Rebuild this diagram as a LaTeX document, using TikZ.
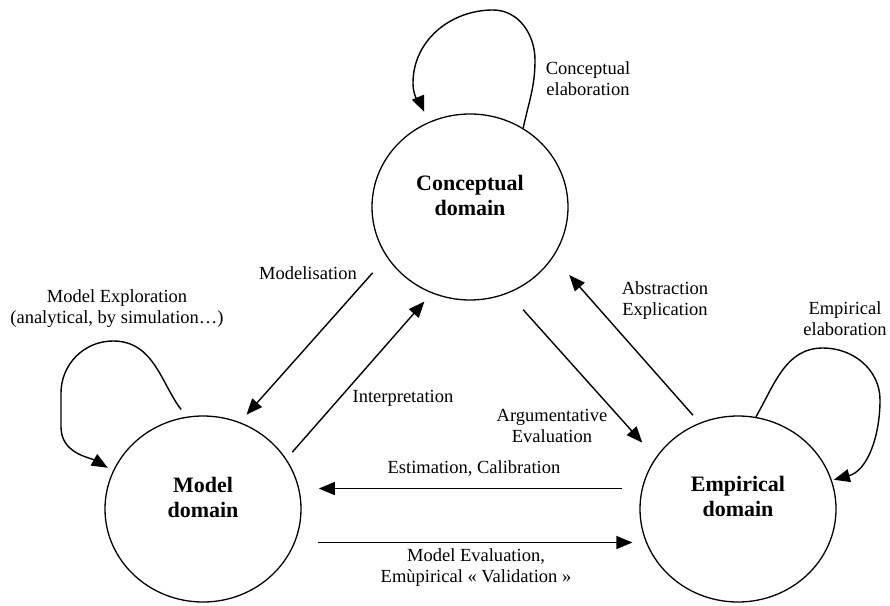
\documentclass[tikz,border=0pt]{standalone}
\usepackage{fontspec}
\setmainfont{Liberation Serif}
\usetikzlibrary{arrows.meta,shapes.geometric}
\begin{document}
\begin{tikzpicture}[x=1pt,y=1pt,
  dom/.style={draw, ellipse, line width=1.3pt, minimum width=196pt, minimum height=186pt, inner sep=0pt},
  domtext/.style={font=\fontsize{22}{25}\selectfont\bfseries, align=center, inner sep=0pt},
  lbl/.style={font=\fontsize{18.5}{21}\selectfont, align=center, inner sep=0pt},
  arr/.style={line width=1.4pt, -{Triangle[length=16pt,width=13pt]}},
  selfloop/.style={arr}
]
\useasboundingbox (0,0) rectangle (890,605);

% domains
\node[dom] (C) at (470,398) {};
\node[dom] (M) at (203,96) {};
\node[dom] (E) at (738,96) {};
\node[domtext] (Ct) at (470,410) {Conceptual\\domain};
\node[domtext] (Mt) at (203,108) {Model\\domain};
\node[domtext] (Et) at (738,109) {Empirical\\domain};

% straight connectors
\draw[arr, shorten <=21pt, shorten >=10pt] (C.211) -- (M.67);
\draw[arr, shorten <=9pt, shorten >=11pt] (M.31) -- (C.246);
\draw[arr, shorten <=22pt, shorten >=20pt] (C.294) -- (E.148);
\draw[arr, shorten <=10pt, shorten >=24pt] (E.114) -- (C.329);
\draw[arr, shorten <=19.5pt, shorten >=19.5pt] (E.168) -- (M.12);
\draw[arr, shorten <=22.5pt, shorten >=13.5pt] (M.340) -- (E.200);

% self loops
\draw[selfloop, shorten >=11pt] (C.56) to[out=78,in=-90] (535,545)
  to[out=90,in=0] (493,595) to[out=180,in=90] (413,522) to[out=-90,in=113] (C.116);
\draw[selfloop, shorten <=9pt, shorten >=6pt] (M.100) to[out=128,in=0] (113,264)
  to[out=180,in=90] (61,212) -- (61,178) to[out=-90,in=150] (M.157);
\draw[selfloop, shorten >=2pt] (E.79) to[out=60,in=180] (823,257)
  to[out=0,in=90] (880,205) to[out=-90,in=15] (E.17);

% labels
\node[lbl] (lmod) at (308,332) {Modelisation};
\node[lbl] (lint) at (403,207) {Interpretation};
\node[lbl] (larg) at (552,179) {Argumentative\\Evaluation};
\node[lbl] (labs) at (665,304) {Abstraction\\Explication};
\node[lbl] (lemp) at (845,286) {Empirical\\elaboration};
\node[lbl] (lcon) at (588,526.5) {Conceptual\\elaboration};
\node[lbl] (lexp) at (117,296.5) {Model Exploration\\(analytical, by simulation…)};
\node[lbl] (lest) at (474,136) {Estimation, Calibration};
\node[lbl] (lval) at (476,37.5) {Model Evaluation,\\Emùpirical « Validation »};
\end{tikzpicture}
\end{document}
